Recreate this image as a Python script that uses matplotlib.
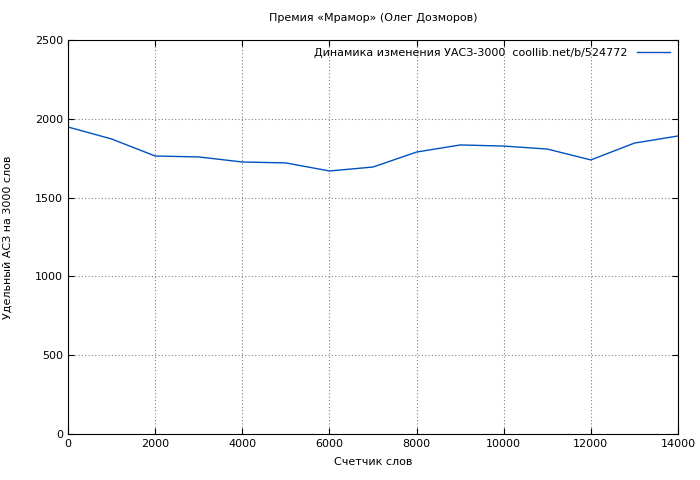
import matplotlib
matplotlib.use('Agg')
import matplotlib.pyplot as plt

words = [0, 1000, 2000, 3000, 4000, 5000, 6000, 7000, 8000, 9000, 10000, 11000, 12000, 13000, 14000]
uasz = [1948, 1872, 1764, 1758, 1726, 1720, 1669, 1694, 1789, 1834, 1827, 1808, 1739, 1846, 1891]

plt.rcParams['font.family'] = ['DejaVu Sans']
plt.rcParams['font.size'] = 8

fig = plt.figure(figsize=(7, 4.8), dpi=100)
ax = fig.add_axes([68/700, 46/480, 610/700, 394/480])
ax.plot(words, uasz, color='#0050c0', linewidth=1, label='Динамика изменения УАСЗ-3000  coollib.net/b/524772')
ax.set_xlim(0, 14000)
ax.set_ylim(0, 2500)
ax.set_xticks(range(0, 14001, 2000))
ax.set_yticks(range(0, 2501, 500))
ax.grid(True, color='#808080', linestyle=(0, (1, 2)), linewidth=0.8)
ax.tick_params(direction='in', length=4, top=True, right=True)
ax.set_xlabel('Счетчик слов', labelpad=6)
ax.set_ylabel('Удельный АСЗ на 3000 слов', labelpad=16)
ax.set_title('Премия «Мрамор» (Олег Дозморов)', fontsize=8, pad=14)
leg = ax.legend(loc='upper right', frameon=False, markerfirst=False, handlelength=3, borderaxespad=0.3)
fig.savefig('out.png')
